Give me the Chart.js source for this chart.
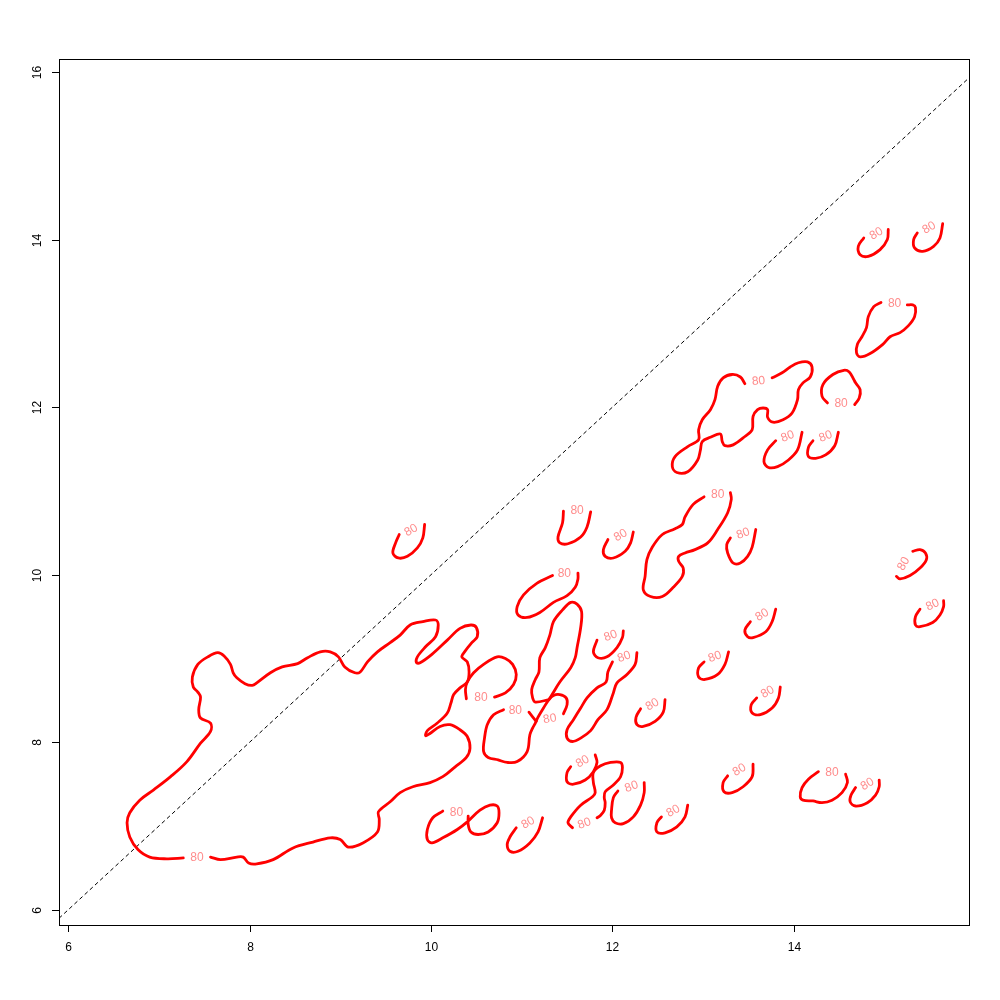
<!DOCTYPE html>
<html><head><meta charset="utf-8">
<script src="https://cdn.jsdelivr.net/npm/chart.js@4/dist/chart.umd.min.js"></script>
<style>html,body{margin:0;padding:0;background:#fff}</style>
</head><body>
<canvas id="c" width="1000" height="1000" style="width:1000px;height:1000px;display:block"></canvas>
<script>
// ---- axis ranges and ticks ----
const xRange = [5.9, 15.93];
const yRange = [5.82, 16.155];
const xTicks = [6, 8, 10, 12, 14];
const yTicks = [6, 8, 10, 12, 14, 16];
const levelText = '80';
const diagonal = [[5.9, 5.9], [15.93, 15.93]];

// ---- contour lines (level 80), data units ----
const c01 = [[7.57,6.63],[7.68,6.60],[7.86,6.63],[7.93,6.63],[7.99,6.56],[8.08,6.55],[8.26,6.60],[8.48,6.74],[8.70,6.81],[8.89,6.86],[9.00,6.84],[9.09,6.75],[9.25,6.80],[9.41,6.93],[9.43,7.08],[9.42,7.17],[9.55,7.29],[9.66,7.40],[9.80,7.47],[9.99,7.52],[10.13,7.59],[10.27,7.71],[10.39,7.82],[10.43,7.93],[10.40,8.07],[10.32,8.15],[10.21,8.21],[10.10,8.19],[9.98,8.10],[9.94,8.08],[9.96,8.14],[10.07,8.23],[10.18,8.35],[10.22,8.47],[10.25,8.57],[10.32,8.65],[10.40,8.72],[10.42,8.84],[10.40,8.96],[10.34,9.02],[10.37,9.08],[10.45,9.19],[10.51,9.26],[10.50,9.37],[10.44,9.40],[10.32,9.36],[10.18,9.22],[10.01,9.05],[9.88,8.95],[9.84,8.95],[9.85,9.02],[9.94,9.14],[10.05,9.26],[10.08,9.40],[10.05,9.46],[9.91,9.44],[9.77,9.40],[9.66,9.28],[9.55,9.19],[9.41,9.08],[9.30,8.96],[9.22,8.84],[9.16,8.83],[9.05,8.90],[8.98,9.02],[8.89,9.08],[8.78,9.08],[8.64,9.01],[8.53,8.94],[8.36,8.90],[8.23,8.83],[8.08,8.71],[8.03,8.68],[7.95,8.70],[7.86,8.77],[7.82,8.83],[7.79,8.93],[7.72,9.03],[7.65,9.07],[7.54,9.02],[7.43,8.93],[7.37,8.78],[7.38,8.66],[7.43,8.60],[7.46,8.54],[7.44,8.39],[7.46,8.29],[7.57,8.23],[7.57,8.13],[7.46,7.99],[7.31,7.77],[7.13,7.59],[6.94,7.43],[6.79,7.31],[6.68,7.16],[6.65,7.04],[6.68,6.87],[6.77,6.72],[6.90,6.63],[7.09,6.61],[7.27,6.62]];
const c02 = [[9.65,10.48],[9.61,10.38],[9.58,10.26],[9.64,10.20],[9.74,10.22],[9.85,10.32],[9.91,10.44],[9.93,10.60]];
const c03 = [[11.46,10.76],[11.45,10.62],[11.40,10.45],[11.42,10.38],[11.51,10.37],[11.65,10.45],[11.72,10.57],[11.76,10.75]];
const c04 = [[11.95,10.42],[11.90,10.30],[11.92,10.22],[12.01,10.20],[12.14,10.28],[12.20,10.38],[12.23,10.51]];
const c05 = [[11.34,9.99],[11.17,9.90],[11.02,9.76],[10.95,9.62],[10.96,9.52],[11.06,9.49],[11.20,9.55],[11.35,9.67],[11.50,9.75],[11.59,9.85],[11.62,9.95],[11.62,10.02]];
const c06 = [[11.30,8.51],[11.34,8.58],[11.42,8.72],[11.54,8.89],[11.59,9.01],[11.61,9.13],[11.65,9.37],[11.66,9.56],[11.61,9.65],[11.54,9.67],[11.45,9.58],[11.35,9.44],[11.31,9.28],[11.26,9.13],[11.20,9.01],[11.19,8.84],[11.15,8.75],[11.11,8.63],[11.12,8.53],[11.15,8.48],[11.30,8.51]];
const c07 = [[11.46,8.34],[11.50,8.45],[11.49,8.53],[11.42,8.57],[11.35,8.56],[11.30,8.51],[11.24,8.41],[11.18,8.30],[11.15,8.23],[11.12,8.17],[11.09,8.09],[11.06,7.89],[10.95,7.77],[10.84,7.76],[10.74,7.79],[10.63,7.82],[10.58,7.89],[10.59,8.05],[10.62,8.21],[10.69,8.33],[10.80,8.39]];
const c07b = [[11.08,8.36],[11.16,8.25]];
const c08 = [[10.39,8.52],[10.38,8.63],[10.40,8.72],[10.47,8.83],[10.58,8.93],[10.73,9.02],[10.82,9.00],[10.90,8.93],[10.94,8.81],[10.91,8.69],[10.82,8.59],[10.70,8.54]];
const c09 = [[12.00,8.96],[11.95,8.84],[11.93,8.72],[11.83,8.65],[11.72,8.53],[11.65,8.41],[11.57,8.27],[11.50,8.15],[11.50,8.05],[11.56,8.01],[11.65,8.05],[11.76,8.14],[11.84,8.27],[11.94,8.39],[12.01,8.59],[12.05,8.71],[12.16,8.81],[12.25,8.93],[12.27,9.07]];
const c10 = [[11.83,9.22],[11.79,9.08],[11.84,9.01],[11.94,9.02],[12.05,9.13],[12.11,9.25],[12.12,9.33]];
const c11 = [[10.13,7.18],[10.02,7.10],[9.96,6.96],[9.96,6.84],[10.01,6.80],[10.13,6.86],[10.29,6.96],[10.41,7.06],[10.54,7.19],[10.65,7.25],[10.73,7.24],[10.75,7.16],[10.73,7.04],[10.63,6.93],[10.52,6.90],[10.44,6.93],[10.41,7.02],[10.41,7.12]];
const c12 = [[10.94,6.98],[10.87,6.87],[10.84,6.78],[10.87,6.70],[10.96,6.70],[11.09,6.80],[11.18,6.93],[11.23,7.10]];
const c13 = [[11.54,7.71],[11.50,7.64],[11.50,7.53],[11.57,7.50],[11.70,7.55],[11.79,7.65],[11.83,7.76],[11.81,7.85]];
const c14 = [[11.56,6.98],[11.51,7.04],[11.54,7.11],[11.65,7.25],[11.78,7.35],[11.81,7.40],[11.79,7.52],[11.79,7.64],[11.87,7.72],[11.98,7.76],[12.09,7.76],[12.11,7.70],[12.09,7.59],[12.01,7.49],[11.92,7.41],[11.91,7.34],[11.92,7.28],[11.91,7.19],[11.87,7.13],[11.83,7.10]];
const c15 = [[12.06,7.42],[12.01,7.34],[11.99,7.19],[11.99,7.10],[12.03,7.04],[12.12,7.03],[12.23,7.11],[12.31,7.25],[12.35,7.40],[12.35,7.52]];
const c16 = [[13.01,8.96],[12.95,8.89],[12.95,8.78],[13.02,8.75],[13.16,8.81],[13.24,8.93],[13.28,9.08]];
const c17 = [[13.52,9.44],[13.46,9.34],[13.49,9.26],[13.55,9.25],[13.69,9.32],[13.76,9.44],[13.80,9.59]];
const c18 = [[13.59,8.53],[13.53,8.45],[13.54,8.35],[13.63,8.33],[13.76,8.41],[13.83,8.53],[13.85,8.66]];
const c19 = [[12.31,8.40],[12.26,8.30],[12.27,8.21],[12.34,8.19],[12.47,8.25],[12.56,8.36],[12.58,8.51]];
const c20 = [[12.54,7.11],[12.49,7.04],[12.49,6.93],[12.58,6.92],[12.71,6.99],[12.80,7.11],[12.83,7.25]];
const c21 = [[13.27,7.60],[13.22,7.52],[13.23,7.41],[13.32,7.40],[13.44,7.47],[13.54,7.59],[13.55,7.74]];
const c22 = [[14.27,7.65],[14.16,7.56],[14.09,7.46],[14.07,7.35],[14.10,7.31],[14.21,7.30],[14.31,7.28],[14.42,7.31],[14.53,7.40],[14.59,7.52],[14.57,7.62]];
const c23 = [[14.68,7.46],[14.63,7.37],[14.62,7.29],[14.68,7.24],[14.81,7.28],[14.90,7.37],[14.94,7.47],[14.94,7.55]];
const c24 = [[15.13,9.98],[15.17,9.95],[15.28,9.99],[15.39,10.08],[15.46,10.18],[15.45,10.26],[15.39,10.30],[15.31,10.28]];
const c25 = [[15.39,9.59],[15.34,9.50],[15.34,9.40],[15.39,9.38],[15.53,9.43],[15.61,9.52],[15.65,9.62],[15.65,9.69]];
const c26 = [[13.01,10.93],[12.89,10.84],[12.80,10.69],[12.77,10.60],[12.69,10.55],[12.55,10.48],[12.44,10.33],[12.38,10.18],[12.36,9.98],[12.34,9.82],[12.42,9.74],[12.55,9.74],[12.67,9.85],[12.77,9.98],[12.78,10.08],[12.73,10.16],[12.73,10.22],[12.80,10.26],[12.91,10.30],[13.05,10.38],[13.16,10.54],[13.27,10.74],[13.31,10.90],[13.30,10.98]];
const c27 = [[13.30,10.44],[13.26,10.36],[13.27,10.26],[13.33,10.14],[13.41,10.14],[13.49,10.22],[13.54,10.33],[13.58,10.54]];
const c28 = [[13.46,12.28],[13.41,12.36],[13.32,12.39],[13.22,12.35],[13.16,12.25],[13.13,12.09],[13.08,11.97],[12.99,11.85],[12.95,11.73],[12.95,11.61],[12.83,11.53],[12.69,11.41],[12.66,11.29],[12.71,11.22],[12.83,11.23],[12.94,11.37],[12.97,11.49],[12.99,11.59],[13.08,11.64],[13.19,11.68],[13.21,11.59],[13.24,11.54],[13.33,11.55],[13.46,11.65],[13.54,11.73],[13.55,11.89],[13.60,11.97],[13.66,11.99],[13.71,11.97],[13.71,11.88],[13.77,11.82],[13.88,11.85],[13.98,11.93],[14.04,12.09],[14.05,12.21],[14.10,12.29],[14.18,12.36],[14.20,12.48],[14.15,12.54],[14.05,12.53],[13.96,12.48],[13.87,12.41],[13.76,12.35]];
const c29 = [[14.37,12.05],[14.31,12.13],[14.32,12.27],[14.43,12.39],[14.55,12.44],[14.61,12.42],[14.66,12.33],[14.68,12.29],[14.73,12.21],[14.72,12.11],[14.67,12.03]];
const c30 = [[13.80,11.60],[13.71,11.49],[13.67,11.35],[13.72,11.28],[13.82,11.29],[13.94,11.37],[14.04,11.49],[14.09,11.70]];
const c31 = [[14.21,11.60],[14.16,11.52],[14.16,11.41],[14.24,11.39],[14.35,11.43],[14.45,11.54],[14.49,11.70]];
const c32 = [[14.77,14.02],[14.71,13.92],[14.73,13.82],[14.82,13.80],[14.95,13.88],[15.03,14.00],[15.04,14.12]];
const c33 = [[15.36,14.08],[15.32,14.00],[15.33,13.90],[15.42,13.86],[15.54,13.92],[15.61,14.02],[15.64,14.19]];
const c34 = [[14.96,13.25],[14.88,13.20],[14.82,13.08],[14.80,12.95],[14.75,12.84],[14.70,12.75],[14.69,12.65],[14.73,12.60],[14.84,12.64],[14.98,12.75],[15.06,12.84],[15.17,12.89],[15.26,12.97],[15.33,13.08],[15.34,13.19],[15.31,13.22],[15.25,13.22]];

// ---- contour label positions [x, y, angle in degrees] ----
const labelX = [7.42, 9.78, 11.61, 12.09, 11.47, 10.93, 11.31, 10.55, 12.13, 11.98, 10.28, 11.07, 11.67, 11.69, 12.21, 13.13, 13.65, 13.71, 12.44, 12.67, 13.40, 14.42, 14.81, 15.21, 15.53, 13.16, 13.44, 13.61, 14.52, 13.93, 14.35, 14.91, 15.49, 15.11];
const labelY = [6.62, 10.53, 10.76, 10.47, 10.01, 8.38, 8.28, 8.53, 9.02, 9.27, 7.16, 7.04, 7.77, 7.03, 7.47, 9.02, 9.52, 8.60, 8.45, 7.18, 7.67, 7.64, 7.50, 10.13, 9.64, 10.96, 10.49, 12.31, 12.04, 11.65, 11.65, 14.07, 14.14, 13.24];
const labelAngle = [0, -30, 0, -30, 0, 0, -10, 0, -20, -20, 0, -30, -30, -20, -20, -20, -30, -30, -30, -30, -30, 0, -30, -60, -25, 0, -20, -5, 0, -20, -20, -30, -30, 0];

const contours = [c01,c02,c03,c04,c05,c06,c07,c07b,c08,c09,c10,c11,c12,c13,c14,c15,c16,c17,c18,c19,c20,c21,c22,c23,c24,c25,c26,c27,c28,c29,c30,c31,c32,c33,c34];

const datasets = contours.map(pts => ({
  data: pts.map(([x, y]) => ({x, y})),
  showLine: true, borderColor: '#ff0000', borderWidth: 2.8,
  pointRadius: 0, tension: 0.35, fill: false,
  borderCapStyle: 'round', borderJoinStyle: 'round'
}));
datasets.push({
  data: diagonal.map(([x, y]) => ({x, y})),
  showLine: true, borderColor: '#000000', borderWidth: 1,
  borderDash: [4, 3], pointRadius: 0, tension: 0, fill: false
});

const FONT = '"Liberation Sans", Arial, Helvetica, sans-serif';

const rAxes = {
  id: 'rAxes',
  afterDatasetsDraw(chart) {
    const ctx = chart.ctx, a = chart.chartArea;
    const xs = chart.scales.x, ys = chart.scales.y;
    // contour labels
    ctx.save();
    ctx.fillStyle = '#ff8c8c';
    ctx.font = '12px ' + FONT;
    ctx.textAlign = 'center';
    ctx.textBaseline = 'middle';
    labelX.forEach((lx, i) => {
      const px = xs.getPixelForValue(lx), py = ys.getPixelForValue(labelY[i]);
      ctx.save();
      ctx.translate(px, py);
      ctx.rotate(labelAngle[i] * Math.PI / 180);
      ctx.fillText(levelText, 0, 0);
      ctx.restore();
    });
    ctx.restore();
    // box
    ctx.save();
    ctx.strokeStyle = '#000';
    ctx.lineWidth = 1;
    ctx.strokeRect(Math.round(a.left) + 0.5, Math.round(a.top) + 0.5, Math.round(a.right - a.left), Math.round(a.bottom - a.top));
    ctx.fillStyle = '#000';
    ctx.font = '12px ' + FONT;
    // x ticks
    ctx.textAlign = 'center';
    ctx.textBaseline = 'top';
    xTicks.forEach(v => {
      const px = Math.round(xs.getPixelForValue(v)) + 0.5;
      ctx.beginPath();
      ctx.moveTo(px, a.bottom);
      ctx.lineTo(px, a.bottom + 7);
      ctx.stroke();
      ctx.fillText(String(v), px, a.bottom + 17);
    });
    // y ticks
    yTicks.forEach(v => {
      const py = Math.round(ys.getPixelForValue(v)) + 0.5;
      ctx.beginPath();
      ctx.moveTo(a.left, py);
      ctx.lineTo(a.left - 7, py);
      ctx.stroke();
      ctx.save();
      ctx.translate(a.left - 21, py);
      ctx.rotate(-Math.PI / 2);
      ctx.textAlign = 'center';
      ctx.textBaseline = 'middle';
      ctx.fillText(String(v), 0, 0);
      ctx.restore();
    });
    ctx.restore();
  }
};

new Chart(document.getElementById('c'), {
  type: 'scatter',
  data: { datasets },
  options: {
    responsive: false,
    animation: false,
    devicePixelRatio: 1,
    layout: { padding: { left: 59, top: 59, right: 31, bottom: 75 } },
    plugins: { legend: { display: false }, tooltip: { enabled: false } },
    scales: {
      x: { type: 'linear', min: xRange[0], max: xRange[1], display: false },
      y: { type: 'linear', min: yRange[0], max: yRange[1], display: false }
    }
  },
  plugins: [rAxes]
});
</script>
</body></html>
